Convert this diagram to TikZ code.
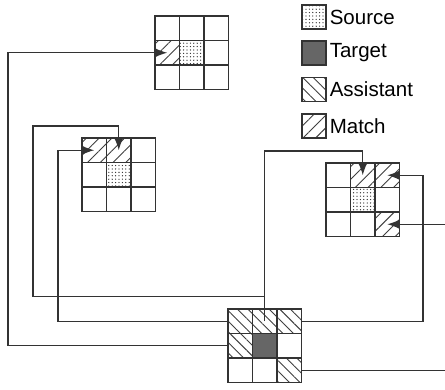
\documentclass[tikz,border=0pt]{standalone}
\usepackage{fontspec}
\setmainfont{Liberation Sans}
\usetikzlibrary{arrows.meta, patterns.meta, positioning}
\tikzset{
  cell/.style={draw=black!80, line width=1.4pt, minimum size=24.5pt, inner sep=0pt},
  source/.style={pattern={Dots[distance=3.4pt,radius=0.65pt]}, pattern color=black!85},
  target/.style={fill=black!60},
  assistant/.style={pattern={Lines[angle=-45,distance=7.5pt,line width=0.9pt]}, pattern color=black!75},
  match/.style={pattern={Lines[angle=45,distance=9pt,line width=0.9pt]}, pattern color=black!75},
  link/.style={draw=black!80, line width=1.2pt},
  arr/.style={link, -{Latex[length=12pt,width=9pt]}},
  legtext/.style={font=\fontsize{20.5}{24}\selectfont, anchor=west, inner sep=0pt},
}
\begin{document}
\begin{tikzpicture}[x=1pt,y=-1pt]
\useasboundingbox (0,0) rectangle (445,390);
\clip (0,0) rectangle (445,390);
\fill[white] (0,0) rectangle (445,390);
% the four 3x3 windows
\foreach \g/\gx/\gy in {top/155/16, lft/82/138, rgt/326/163, bot/228/309}
  \foreach \r in {1,2,3}
    \foreach \c in {1,2,3}
      \node[cell] (\g-\r-\c) at ({\gx+(\c-0.5)*24.5}, {\gy+(\r-0.5)*24.5}) {};
\foreach \k/\s in {top-2-1/match, top-2-2/source, lft-1-1/match, lft-1-2/match, lft-2-2/source,
    rgt-1-2/match, rgt-1-3/match, rgt-2-2/source, rgt-3-3/match,
    bot-1-1/assistant, bot-1-2/assistant, bot-1-3/assistant, bot-2-1/assistant,
    bot-2-2/target, bot-3-3/assistant}
  \node[cell, \s] at (\k) {};
% legend
\foreach \s/\t/\y in {source/Source/17, target/Target/53, assistant/Assistant/89.5, match/Match/126}{
  \node[cell, line width=1.2pt, minimum size=24pt, \s] (key-\s) at (314,\y) {};
  \node[legtext, right=3pt of key-\s] (lbl-\s) {\t};
}
% links
\coordinate (busA) at (8,0);
\coordinate (busB) at (33,126);
\coordinate (busC) at (58,0);
\coordinate (hub) at (0,151);
\coordinate (busD) at (423,0);
\coordinate (busE) at (448,0);
\draw[arr] (bot-2-1.west) -| (busA |- top-2-1) -- (top-2-1.center);
\draw[arr] (bot-1-2.center) |- (rgt-1-2 |- hub) -- (rgt-1-2.center);
\draw[arr] ([yshift=25pt]bot-1-2.center) -| (busB) -| (lft-1-2.center);
\draw[arr] (bot-1-1.west) -| (busC |- lft-1-1) -- (lft-1-1.center);
\draw[arr] (bot-1-3.east) -| (busD |- rgt-1-3) -- (rgt-1-3.center);
\draw[arr] (bot-3-3.east) -| (busE |- rgt-3-3) -- (rgt-3-3.center);
\end{tikzpicture}
\end{document}
